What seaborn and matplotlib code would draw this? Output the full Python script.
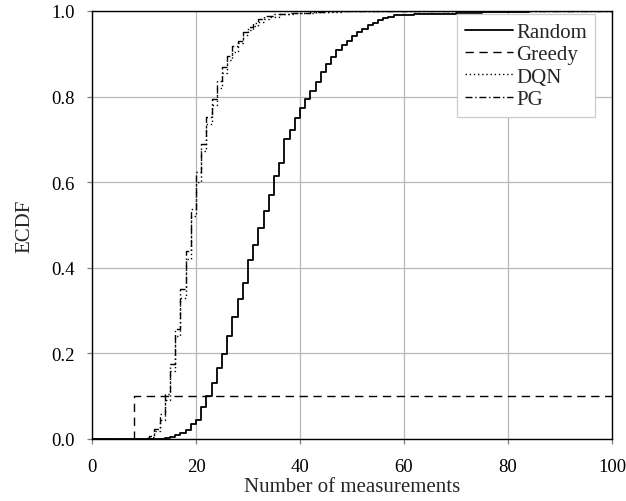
import numpy as np
import pandas as pd
import matplotlib
matplotlib.use("Agg")
import matplotlib.pyplot as plt
import seaborn as sns

# ---------------- data (ECDF values) ----------------
random_x = [0, 14, 15, 16, 17, 18, 19, 20, 21, 22, 23, 24, 25, 26, 27, 28, 29, 30,
            31, 32, 33, 34, 35, 36, 37, 38, 39, 40, 41, 42, 43, 44, 45, 46, 47, 48,
            49, 50, 51, 52, 53, 54, 55, 56, 57, 58, 62, 66, 70, 75, 80, 84, 88, 100]
random_y = [0.0, 0.002, 0.005, 0.009, 0.014, 0.020, 0.034, 0.045, 0.074, 0.101, 0.131,
            0.167, 0.199, 0.240, 0.284, 0.327, 0.364, 0.419, 0.454, 0.493, 0.532, 0.571,
            0.615, 0.645, 0.700, 0.723, 0.749, 0.773, 0.794, 0.814, 0.835, 0.858, 0.876,
            0.892, 0.910, 0.921, 0.931, 0.942, 0.951, 0.959, 0.967, 0.972, 0.978, 0.983,
            0.987, 0.990, 0.992, 0.994, 0.996, 0.997, 0.998, 0.999, 1.0, 1.0]

greedy_x = [0, 8, 100]
greedy_y = [0.0, 0.1, 0.1]

dqn_x = [0, 10, 11, 12, 13, 14, 15, 16, 17, 18, 19, 20, 21, 22, 23, 24, 25, 26, 27,
         28, 29, 30, 31, 32, 33, 34, 36, 39, 43, 48, 100]
dqn_y = [0.0, 0.001, 0.005, 0.018, 0.045, 0.090, 0.160, 0.240, 0.330, 0.420, 0.520,
         0.600, 0.674, 0.735, 0.780, 0.820, 0.855, 0.885, 0.905, 0.925, 0.943, 0.955,
         0.966, 0.975, 0.982, 0.987, 0.992, 0.996, 0.998, 1.0, 1.0]

pg_x = [0, 10, 11, 12, 13, 14, 15, 16, 17, 18, 19, 20, 21, 22, 23, 24, 25, 26, 27,
        28, 29, 30, 31, 32, 33, 35, 38, 42, 46, 100]
pg_y = [0.0, 0.002, 0.008, 0.023, 0.058, 0.105, 0.175, 0.257, 0.350, 0.440, 0.537,
        0.623, 0.689, 0.752, 0.794, 0.837, 0.868, 0.896, 0.919, 0.931, 0.950, 0.962,
        0.973, 0.982, 0.988, 0.993, 0.996, 0.998, 1.0, 1.0]

x_ticks = [0, 20, 40, 60, 80, 100]
y_ticks = [0.0, 0.2, 0.4, 0.6, 0.8, 1.0]

# ---------------- style ----------------
sns.set_theme(style="ticks")
plt.rcParams["font.family"] = ["Liberation Serif", "DejaVu Serif"]
plt.rcParams["mathtext.fontset"] = "stix"

FS = 15
TFS = 13.5
fig = plt.figure(figsize=(6.26, 5.02), dpi=100)
ax = fig.add_axes([92 / 626, 1 - 440 / 502, 520 / 626, 428 / 502])

series = [
    ("Random", random_x, random_y, "-", 1.3),
    ("Greedy", greedy_x, greedy_y, (0, (6, 4)), 1.0),
    ("DQN", dqn_x, dqn_y, (0, (1, 2)), 1.0),
    ("PG", pg_x, pg_y, (0, (5, 2, 1, 2)), 1.0),
]
for name, xs, ys, ls, lw in series:
    df = pd.DataFrame({"x": xs, "y": ys})
    sns.lineplot(data=df, x="x", y="y", ax=ax, drawstyle="steps-post",
                 color="black", linestyle=ls, linewidth=lw, label=name,
                 errorbar=None, estimator=None)

ax.set_xlim(0, 100)
ax.set_ylim(0, 1)
ax.set_xticks(x_ticks)
ax.set_yticks(y_ticks)
ax.set_yticklabels([f"{v:.1f}" for v in y_ticks])
ax.grid(True, color="#b8b8b8", linewidth=0.9)
ax.set_axisbelow(True)
for s in ax.spines.values():
    s.set_color("black")
    s.set_linewidth(1.0)
ax.tick_params(axis="both", direction="out", length=3.6, width=0.9, color="#808080",
               labelsize=TFS, labelcolor="black")
ax.tick_params(axis="x", pad=10)
ax.tick_params(axis="y", pad=9.0)
ax.set_xlabel("Number of measurements", fontsize=FS, labelpad=1.5)
ax.set_ylabel("ECDF", fontsize=FS, labelpad=12)

leg = ax.legend(loc="upper left", bbox_to_anchor=((457 - 92) / 520, (440 - 15) / 428),
                fontsize=FS, frameon=True, fancybox=False,
                framealpha=1, edgecolor="#cccccc", handlelength=2.3,
                handletextpad=0.15, borderpad=0.4, labelspacing=0.13,
                borderaxespad=0.0)
leg.get_frame().set_linewidth(0.9)

fig.savefig("out.png", dpi=100)
